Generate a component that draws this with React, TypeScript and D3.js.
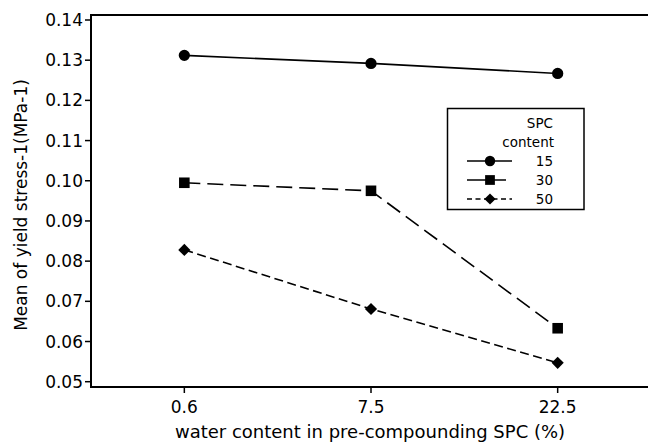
import React from "react";
import * as d3 from "d3";

const categories = ["0.6", "7.5", "22.5"];
const seriesNames = ["15", "30", "50"];
const values15 = [0.1312, 0.1292, 0.1267];
const values30 = [0.0995, 0.0975, 0.0633];
const values50 = [0.0828, 0.0681, 0.0547];
const yTicks = [0.05, 0.06, 0.07, 0.08, 0.09, 0.1, 0.11, 0.12, 0.13, 0.14];

const W = 648;
const H = 443;
const left = 91;
const right = 651;
const top = 15;
const bottom = 387;

const series = [
  { name: seriesNames[0], values: values15, dash: "none", legDash: "none", symbol: d3.symbolCircle, size: 100, rot: 0 },
  { name: seriesNames[1], values: values30, dash: "16,7", legDash: "none", symbol: d3.symbolSquare, size: 112, rot: 0 },
  { name: seriesNames[2], values: values50, dash: "9,4.5", legDash: "5,3.5", symbol: d3.symbolSquare, size: 74, rot: 45 },
];

export default function App() {
  const x = d3.scalePoint<string>().domain(categories).range([left, right]).padding(0.5);
  const y = d3.scaleLinear().domain([0.05, 0.14]).range([381.7, 20]);
  const line = d3
    .line<number>()
    .x((_, i) => x(categories[i]) as number)
    .y((d) => y(d));
  const font = "'DejaVu Sans', Verdana, sans-serif";

  const legX = 447.5;
  const legY = 108.5;
  const legRows = [161, 180, 199];

  return (
    <svg
      width={W}
      height={H}
      style={{ position: "absolute", left: 0, top: 0, background: "#fff" }}
      fontFamily={font}
    >
      <rect x={0} y={0} width={W} height={H} fill="#fff" />
      {/* frame */}
      <rect
        x={left}
        y={top}
        width={right - left}
        height={bottom - top}
        fill="none"
        stroke="#000"
        strokeWidth={2}
      />
      {/* y ticks */}
      {yTicks.map((t) => (
        <g key={t}>
          <line x1={left - 6} x2={left} y1={y(t)} y2={y(t)} stroke="#000" strokeWidth={1.5} />
          <text
            x={left - 8}
            y={y(t)}
            dy="0.36em"
            textAnchor="end"
            fontSize={17}
            fill="#000"
          >
            {t.toFixed(2)}
          </text>
        </g>
      ))}
      {/* x ticks */}
      {categories.map((c) => (
        <g key={c}>
          <line
            x1={x(c)}
            x2={x(c)}
            y1={bottom}
            y2={bottom + 6}
            stroke="#000"
            strokeWidth={1.5}
          />
          <text x={x(c)} y={bottom + 26} textAnchor="middle" fontSize={17} fill="#000">
            {c}
          </text>
        </g>
      ))}
      {/* axis titles */}
      <text x={370} y={438} textAnchor="middle" fontSize={18} fill="#000">
        water content in pre-compounding SPC (%)
      </text>
      <text
        transform={`translate(27,205) rotate(-90)`}
        textAnchor="middle"
        fontSize={17}
        fill="#000"
      >
        Mean of yield stress-1(MPa-1)
      </text>
      {/* series */}
      {series.map((s) => (
        <g key={s.name}>
          <path
            d={line(s.values) as string}
            fill="none"
            stroke="#000"
            strokeWidth={1.6}
            strokeDasharray={s.dash}
          />
          {s.values.map((v, i) => (
            <path
              key={i}
              transform={`translate(${x(categories[i])},${y(v)}) rotate(${s.rot})`}
              d={d3.symbol().type(s.symbol).size(s.size)() as string}
              fill="#000"
            />
          ))}
        </g>
      ))}
      {/* legend */}
      <rect
        x={legX}
        y={legY}
        width={584 - legX}
        height={209.5 - legY}
        fill="#fff"
        stroke="#000"
        strokeWidth={1.5}
      />
      <text x={553} y={123} dy="0.35em" textAnchor="end" fontSize={13.5} fill="#000">
        SPC
      </text>
      <text x={554} y={142} dy="0.35em" textAnchor="end" fontSize={13.5} fill="#000">
        content
      </text>
      {series.map((s, i) => (
        <g key={s.name}>
          <line
            x1={467}
            x2={s.name === "30" ? 506 : 512}
            y1={legRows[i]}
            y2={legRows[i]}
            stroke="#000"
            strokeWidth={1.5}
            strokeDasharray={s.legDash}
          />
          <path
            transform={`translate(490,${legRows[i]}) rotate(${s.rot})`}
            d={d3.symbol().type(s.symbol).size(s.size * 0.85)() as string}
            fill="#000"
          />
          <text
            x={553}
            y={legRows[i]}
            dy="0.35em"
            textAnchor="end"
            fontSize={13.5}
            fill="#000"
          >
            {s.name}
          </text>
        </g>
      ))}
    </svg>
  );
}
